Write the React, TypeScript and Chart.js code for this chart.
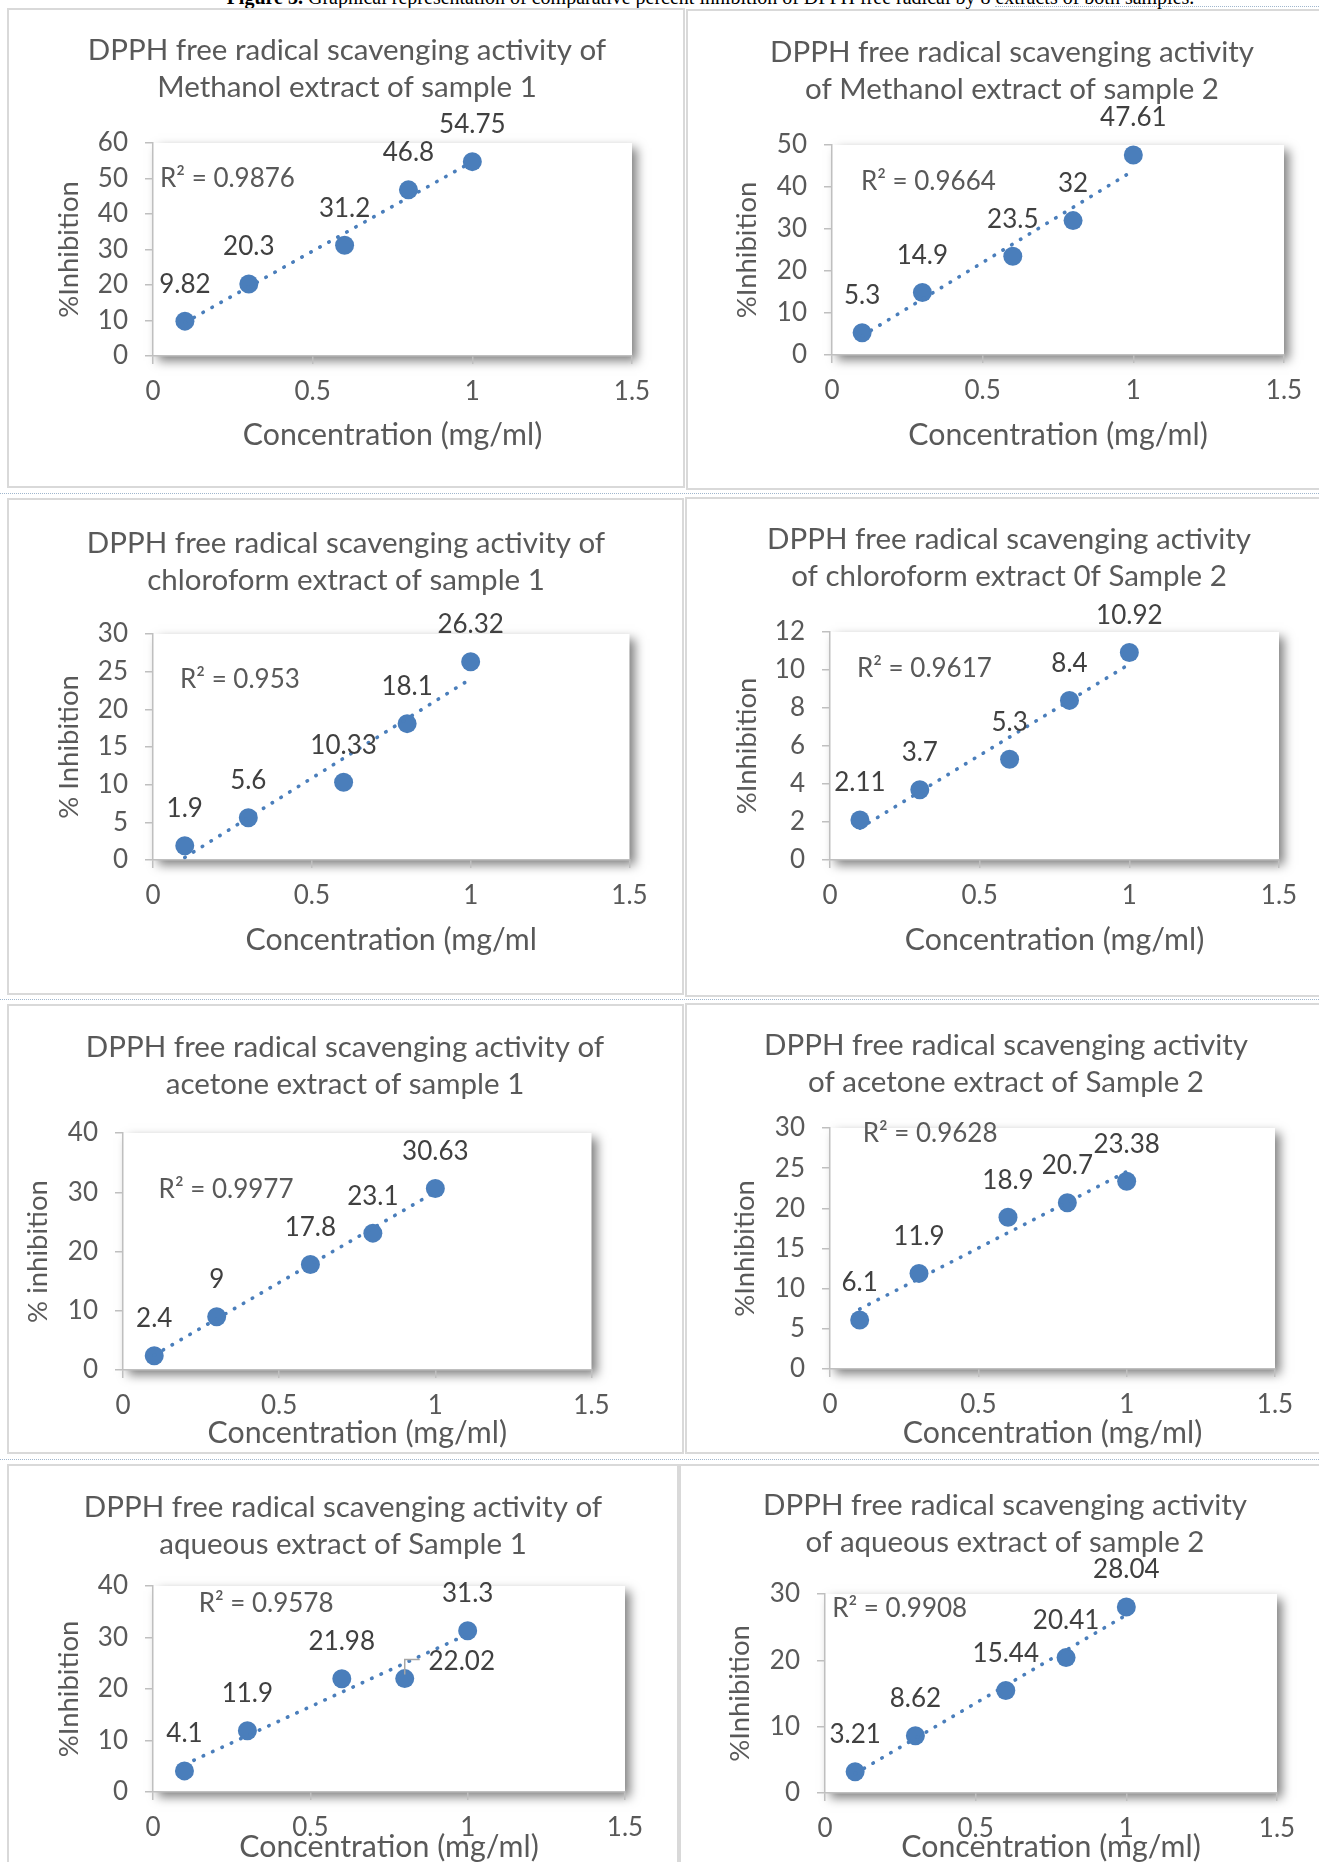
import React, { useEffect, useRef } from "react";
import { Chart, registerables } from "chart.js";

Chart.register(...registerables);

// ---------------- data ----------------
const concentration = [0.1, 0.3, 0.6, 0.8, 1.0];
const methanolSample1 = [9.82, 20.3, 31.2, 46.8, 54.75];
const methanolSample2 = [5.3, 14.9, 23.5, 32, 47.61];
const chloroformSample1 = [1.9, 5.6, 10.33, 18.1, 26.32];
const chloroformSample2 = [2.11, 3.7, 5.3, 8.4, 10.92];
const acetoneSample1 = [2.4, 9, 17.8, 23.1, 30.63];
const acetoneSample2 = [6.1, 11.9, 18.9, 20.7, 23.38];
const aqueousSample1 = [4.1, 11.9, 21.98, 22.02, 31.3];
const aqueousSample2 = [3.21, 8.62, 15.44, 20.41, 28.04];

const seriesValues = [
  methanolSample1, methanolSample2,
  chloroformSample1, chloroformSample2,
  acetoneSample1, acetoneSample2,
  aqueousSample1, aqueousSample2,
];

const rSquaredLabels = ["0.9876", "0.9664", "0.953", "0.9617", "0.9977", "0.9628", "0.9578", "0.9908"];

const chartTitles: string[][] = [
  ["DPPH free radical scavenging activity of", "Methanol extract of sample 1"],
  ["DPPH free radical scavenging activity", "of Methanol extract of sample 2"],
  ["DPPH free radical scavenging activity of", "chloroform extract of sample 1"],
  ["DPPH free radical scavenging activity", "of chloroform extract 0f Sample 2"],
  ["DPPH free radical scavenging activity of", "acetone extract of sample 1"],
  ["DPPH free radical scavenging activity", "of acetone extract of Sample 2"],
  ["DPPH free radical scavenging activity of", "aqueous extract of Sample 1"],
  ["DPPH free radical scavenging activity", "of aqueous extract of sample 2"],
];
const yAxisTitles = ["%Inhibition", "%Inhibition", "% Inhibition", "%Inhibition", "% inhibition", "%Inhibition", "%Inhibition", "%Inhibition"];
const xAxisTitles = [
  "Concentration (mg/ml)", "Concentration (mg/ml)",
  "Concentration (mg/ml", "Concentration (mg/ml)",
  "Concentration (mg/ml)", "Concentration (mg/ml)",
  "Concentration (mg/ml)", "Concentration (mg/ml)",
];
const yAxisMax = [60, 50, 30, 12, 40, 30, 40, 30];
const yAxisStep = [10, 10, 5, 2, 10, 5, 10, 10];
const xAxisMin = 0;
const xAxisMax = 1.5;
const xAxisStep = 0.5;
const caption = "Graphical representation of comparative percent inhibition of DPPH free radical by 8 extracts of both samples.";

// ---------------- layout & style ----------------
const FONT = "Lato";
const TEXT = "#595959";
const LABEL = "#404040";
const AXIS = "#BFBFBF";
const BLUE = "#4A7EBB";
const FS = { title: 29.5, xTitle: 30.3, yTitle: 27.5, tick: 26, label: 26, r2: 26 };
const TITLE_GAP = 37;
const LABEL_RAISE = 37;
const TICK_LEN = 8;

type Layout = {
  box: [number, number, number, number];      // l, t, r, b (page px)
  plot: [number, number, number, number];     // x-left, x-right, y-top, y-bottom (page px)
  titleX: number; titleY: number; yTitleX: number; xTitleY: number;
  r2At: [number, number];                     // in data units
  labelOffsets?: Record<number, [number, number]>;
  leaders?: Record<number, boolean>;
};

const layouts: Layout[] = [
  { box: [7, 8, 685, 488], plot: [153, 632, 143, 356], titleX: 347, titleY: 50, yTitleX: 69, xTitleY: 435, r2At: [0.022, 50] },
  { box: [686, 9, 1345, 490], plot: [832, 1284, 145, 355], titleX: 1012, titleY: 52, yTitleX: 747, xTitleY: 435, r2At: [0.096, 41.2] },
  { box: [7, 498, 684, 995], plot: [153, 629.5, 634, 860], titleX: 346, titleY: 543, yTitleX: 69, xTitleY: 940, r2At: [0.085, 23.9] },
  { box: [685, 497, 1345, 997], plot: [830, 1279, 632, 860], titleX: 1009, titleY: 539, yTitleX: 747, xTitleY: 940, r2At: [0.09, 10.06] },
  { box: [7, 1004, 684, 1454], plot: [123, 591.5, 1133, 1370], titleX: 345, titleY: 1047, yTitleX: 38, xTitleY: 1433, r2At: [0.114, 30.4] },
  { box: [685, 1003, 1345, 1454], plot: [830, 1275, 1128, 1369], titleX: 1006, titleY: 1045, yTitleX: 745, xTitleY: 1433, r2At: [0.11, 29.3] },
  { box: [7, 1464, 679, 1875], plot: [153, 625, 1586, 1792], titleX: 343, titleY: 1507, yTitleX: 69, xTitleY: 1847, r2At: [0.145, 36.6],
    labelOffsets: { 3: [57, -16.5] }, leaders: { 3: true } },
  { box: [679, 1464, 1345, 1875], plot: [825, 1277, 1594, 1793], titleX: 1005, titleY: 1505, yTitleX: 740, xTitleY: 1847, r2At: [0.024, 27.85] },
];

function linearFit(xs: number[], ys: number[]) {
  const n = xs.length;
  const mx = xs.reduce((a, b) => a + b, 0) / n;
  const my = ys.reduce((a, b) => a + b, 0) / n;
  let sxy = 0, sxx = 0;
  for (let k = 0; k < n; k++) {
    sxy += (xs[k] - mx) * (ys[k] - my);
    sxx += (xs[k] - mx) * (xs[k] - mx);
  }
  const b = sxy / sxx;
  return { a: my - b * mx, b };
}

const decorPlugin = {
  id: "decor",
  beforeDraw(chart: any) {
    const { ctx, chartArea: a } = chart;
    ctx.save();
    ctx.shadowColor = "rgba(0,0,0,0.5)";
    ctx.shadowBlur = 10;
    ctx.shadowOffsetX = 5;
    ctx.shadowOffsetY = 5;
    ctx.fillStyle = "#ffffff";
    ctx.fillRect(a.left, a.top, a.right - a.left, a.bottom - a.top);
    ctx.restore();
  },
  afterDraw(chart: any, _args: any, opts: any) {
    const { ctx } = chart;
    const meta = chart.getDatasetMeta(0);
    ctx.save();
    // data labels
    ctx.font = `${FS.label}px ${FONT}`;
    ctx.textAlign = "center";
    ctx.textBaseline = "middle";
    meta.data.forEach((el: any, k: number) => {
      const off: [number, number] = (opts.labelOffsets && opts.labelOffsets[k]) || [0, -LABEL_RAISE];
      const lx = el.x + off[0];
      const ly = el.y + off[1];
      if (opts.leaders && opts.leaders[k]) {
        ctx.strokeStyle = "#A6A6A6";
        ctx.lineWidth = 1.5;
        ctx.beginPath();
        ctx.moveTo(el.x, el.y - 4);
        ctx.lineTo(el.x, el.y - 19);
        ctx.lineTo(el.x + 15, el.y - 19);
        ctx.stroke();
      }
      ctx.fillStyle = LABEL;
      ctx.fillText(opts.labels[k], lx, ly);
    });
    // R squared
    ctx.font = `${FS.r2}px ${FONT}`;
    ctx.textAlign = "left";
    ctx.fillStyle = TEXT;
    ctx.fillText(opts.r2Text, chart.scales.x.getPixelForValue(opts.r2At[0]), chart.scales.y.getPixelForValue(opts.r2At[1]));
    // title
    ctx.font = `${FS.title}px ${FONT}`;
    ctx.textAlign = "center";
    opts.title.forEach((line: string, j: number) => ctx.fillText(line, opts.titleX, opts.titleY + j * TITLE_GAP));
    ctx.restore();
  },
};

function makeConfig(i: number): any {
  const L = layouts[i];
  const [bl, bt, br, bb] = L.box;
  const [px0, px1, pyTop, py0] = L.plot;
  const H = bb - bt;
  const ys = seriesValues[i];
  const points = concentration.map((x, k) => ({ x, y: ys[k] }));
  const fit = linearFit(concentration, ys);
  const xa = Math.min(...concentration);
  const xb = Math.max(...concentration);
  const trend = [{ x: xa, y: fit.a + fit.b * xa }, { x: xb, y: fit.a + fit.b * xb }];
  const xtLH = FS.xTitle * 1.2;
  const ytLH = FS.yTitle * 1.2;
  const tickFont = { family: FONT, size: FS.tick, lineHeight: 1.2 };
  const plainNumber = (v: any) => String(Number(v));
  return {
    type: "scatter",
    data: {
      datasets: [
        { data: points, backgroundColor: BLUE, borderColor: BLUE, borderWidth: 0, pointRadius: 9.5, pointHoverRadius: 9.5, order: 2 },
        { type: "line", data: trend, borderColor: BLUE, borderWidth: 3.6, borderDash: [0.5, 9.8], borderCapStyle: "round",
          pointRadius: 0, showLine: true, fill: false, tension: 0, order: 1 },
      ],
    },
    options: {
      animation: false,
      responsive: false,
      maintainAspectRatio: false,
      devicePixelRatio: 1,
      events: [],
      layout: { padding: { top: pyTop - bt, right: br - px1, bottom: 0, left: 0 } },
      plugins: {
        legend: { display: false },
        tooltip: { enabled: false },
        title: { display: false },
        decor: {
          labels: ys.map((v) => String(v)),
          labelOffsets: L.labelOffsets,
          leaders: L.leaders,
          r2Text: `R² = ${rSquaredLabels[i]}`,
          r2At: L.r2At,
          title: chartTitles[i],
          titleX: L.titleX - bl,
          titleY: L.titleY - bt,
        },
      },
      scales: {
        x: {
          type: "linear",
          position: "bottom",
          min: xAxisMin,
          max: xAxisMax,
          ticks: { stepSize: xAxisStep, font: tickFont, color: TEXT, padding: 12, maxRotation: 0, callback: plainNumber },
          grid: { display: true, drawOnChartArea: false, drawTicks: true, tickLength: TICK_LEN, color: AXIS, lineWidth: 1.5 },
          border: { display: true, color: AXIS, width: 1.5 },
          title: {
            display: true, text: xAxisTitles[i], color: TEXT,
            font: { family: FONT, size: FS.xTitle, lineHeight: 1.2 },
            padding: { top: 0, bottom: H - (L.xTitleY - bt) - xtLH / 2 },
          },
          afterFit: (s: any) => { s.height = H - (py0 - bt); },
        },
        y: {
          type: "linear",
          position: "left",
          min: 0,
          max: yAxisMax[i],
          ticks: { stepSize: yAxisStep[i], font: tickFont, color: TEXT, padding: 17, callback: plainNumber },
          grid: { display: true, drawOnChartArea: false, drawTicks: true, tickLength: TICK_LEN, color: AXIS, lineWidth: 1.5 },
          border: { display: true, color: AXIS, width: 1.5 },
          title: {
            display: true, text: yAxisTitles[i], color: TEXT,
            font: { family: FONT, size: FS.yTitle, lineHeight: 1.2 },
            padding: { top: (L.yTitleX - bl) - ytLH / 2, bottom: 0 },
          },
          afterFit: (s: any) => { s.width = px0 - bl; },
        },
      },
    },
    plugins: [decorPlugin],
  };
}

function Panel({ index }: { index: number }) {
  const ref = useRef<HTMLCanvasElement>(null);
  const L = layouts[index];
  const W = L.box[2] - L.box[0];
  const H = L.box[3] - L.box[1];
  useEffect(() => {
    let chart: Chart | null = null;
    let cancelled = false;
    const build = () => {
      if (cancelled || !ref.current) return;
      chart = new Chart(ref.current, makeConfig(index));
    };
    const fl: any = (document as any).fonts;
    if (fl && fl.load) {
      Promise.all([fl.load(`26px ${FONT}`), fl.load(`30px ${FONT}`)]).then(build, build);
    } else build();
    return () => {
      cancelled = true;
      if (chart) chart.destroy();
    };
  }, [index]);
  return (
    <>
      <div style={{ position: "absolute", left: L.box[0], top: L.box[1], width: W, height: H, boxSizing: "border-box", border: "2px solid #D9D9D9" }} />
      <canvas ref={ref} width={W} height={H} style={{ position: "absolute", left: L.box[0], top: L.box[1], width: W, height: H }} />
    </>
  );
}

const separatorYs = [493, 999, 1459];

export default function App() {
  return (
    <div style={{ position: "absolute", left: 0, top: 0, width: 1319, height: 1862, overflow: "hidden", background: "#ffffff" }}>
      <div style={{ position: "absolute", left: 0, top: -13, width: 1319, textAlign: "center", whiteSpace: "nowrap",
        fontFamily: "'Liberation Serif', 'Times New Roman', serif", fontSize: 20, lineHeight: "20px", color: "#000", paddingLeft: 102, boxSizing: "border-box" }}>
        <b>Figure 3.</b> {caption}
      </div>
      <div style={{ position: "absolute", left: 995, top: 6, width: 324, borderTop: "1px dotted #9FB6CD" }} />
      {separatorYs.map((y) => (
        <div key={y} style={{ position: "absolute", left: 0, top: y, width: 1319, borderTop: "1px dotted #9FB6CD" }} />
      ))}
      {layouts.map((_, i) => <Panel key={i} index={i} />)}
    </div>
  );
}
